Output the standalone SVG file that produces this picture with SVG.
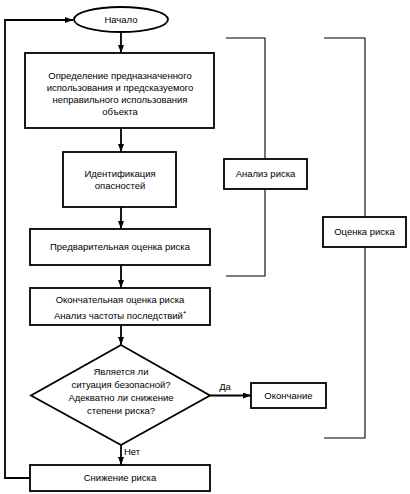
<svg xmlns="http://www.w3.org/2000/svg" width="410" height="494" viewBox="0 0 410 494">
<style>
.n{fill:#fff;stroke:#000;stroke-width:1.8}
.t{font-family:"Liberation Sans",Arial,sans-serif;font-size:9.5px;fill:#000;text-anchor:middle}
.c{fill:none;stroke:#000;stroke-width:1.8}
.b{fill:none;stroke:#000;stroke-width:1.1}
</style>
<defs>
<marker id="ah" markerWidth="8" markerHeight="6" refX="8" refY="3" orient="auto" markerUnits="userSpaceOnUse">
<path d="M0,0 L8,3 L0,6 z" fill="#000"/>
</marker>
</defs>
<rect width="410" height="494" fill="#fff"/>
<g id="connectors">
<line class="c" x1="121" y1="32" x2="121" y2="53" marker-end="url(#ah)"/>
<line class="c" x1="121" y1="128" x2="121" y2="152" marker-end="url(#ah)"/>
<line class="c" x1="121" y1="207" x2="121" y2="229" marker-end="url(#ah)"/>
<line class="c" x1="121" y1="265" x2="121" y2="288" marker-end="url(#ah)"/>
<line class="c" x1="121" y1="325" x2="121" y2="345" marker-end="url(#ah)"/>
<line class="c" x1="121" y1="445" x2="121" y2="465" marker-end="url(#ah)"/>
<line class="c" x1="210" y1="395.5" x2="251" y2="395.5" marker-end="url(#ah)"/>
<polyline class="c" points="30,478 5,478 5,20 73,20" marker-end="url(#ah)"/>
<text class="t" x="225" y="390">Да</text>
<text class="t" x="124" y="455" style="text-anchor:start">Нет</text>
<polyline class="b" points="226,38 265,38 265,276 226,276"/>
<polyline class="b" points="324,38 365,38 365,438 324,438"/>
</g>
<g id="start">
<ellipse class="n" cx="121" cy="19.5" rx="47" ry="12.5"/>
<text class="t" x="121" y="23">Начало</text>
</g>
<g id="define">
<rect class="n" x="25" y="53" width="189" height="75"/>
<text class="t" x="120" y="79">Определение предназначенного</text>
<text class="t" x="120" y="91">использования и предсказуемого</text>
<text class="t" x="120" y="103">неправильного использования</text>
<text class="t" x="120" y="115">объекта</text>
</g>
<g id="identify">
<rect class="n" x="63" y="152" width="113" height="55"/>
<text class="t" x="120" y="177">Идентификация</text>
<text class="t" x="120" y="189">опасностей</text>
</g>
<g id="prelim">
<rect class="n" x="30" y="229" width="180" height="36"/>
<text class="t" x="120" y="250">Предварительная оценка риска</text>
</g>
<g id="final">
<rect class="n" x="30" y="288" width="180" height="37"/>
<text class="t" x="120" y="303">Окончательная оценка риска</text>
<text class="t" x="120" y="319">Анализ частоты последствий<tspan dy="-3" font-size="8">*</tspan></text>
</g>
<g id="decision">
<polygon class="n" points="121,345 210,395.5 121,445 31,395.5"/>
<text class="t" x="121" y="375">Является ли</text>
<text class="t" x="121" y="388">ситуация безопасной?</text>
<text class="t" x="121" y="401">Адекватно ли снижение</text>
<text class="t" x="121" y="414">степени риска?</text>
</g>
<g id="end">
<rect class="n" x="251" y="383" width="75" height="25"/>
<text class="t" x="288.5" y="399">Окончание</text>
</g>
<g id="reduce">
<rect class="n" x="30" y="465" width="180" height="26"/>
<text class="t" x="120" y="481">Снижение риска</text>
</g>
<g id="analysis">
<rect class="n" x="224" y="159" width="83" height="30"/>
<text class="t" x="265.5" y="177">Анализ риска</text>
</g>
<g id="assessment">
<rect class="n" x="323" y="217" width="83" height="30"/>
<text class="t" x="364.5" y="235">Оценка риска</text>
</g>
</svg>
